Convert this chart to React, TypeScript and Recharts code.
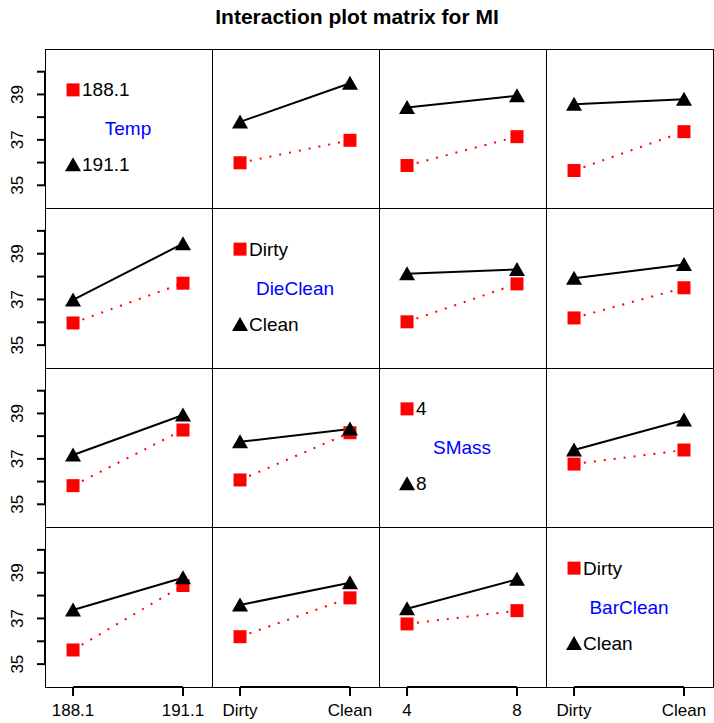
import React from 'react';
import { ComposedChart, Line, XAxis, YAxis, ReferenceDot, ReferenceLine } from 'recharts';

const factorNames = ['Temp', 'DieClean', 'SMass', 'BarClean'];
const factorLevels = [
  ['188.1', '191.1'],
  ['Dirty', 'Clean'],
  ['4', '8'],
  ['Dirty', 'Clean'],
];

// mean MI, row = trace factor, col = x factor, [x level 1, x level 2]
// red = first level of the trace factor, black = second level
const redMeans: (number[] | null)[][] = [
  [null, [35.99, 36.98], [35.87, 37.14], [35.65, 37.36]],
  [[35.97, 37.71], null, [36.02, 37.68], [36.19, 37.51]],
  [[35.82, 38.27], [36.07, 38.15], null, [36.77, 37.39]],
  [[35.62, 38.44], [36.2, 37.9], [36.76, 37.34], null],
];
const blackMeans: (number[] | null)[][] = [
  [null, [37.79, 39.49], [38.42, 38.94], [38.57, 38.79]],
  [[36.98, 39.44], null, [38.12, 38.31], [37.93, 38.53]],
  [[37.17, 38.93], [37.75, 38.31], null, [37.39, 38.71]],
  [[37.37, 38.78], [37.59, 38.56], [37.42, 38.71], null],
];

const yTicks = [35, 36, 37, 38, 39, 40];
const yLabels = [35, 37, 39];
const legendY = [39.2, 35.9];
const nameY = 37.5;

const FONT = '"Liberation Sans", Arial, sans-serif';
const colX = [45, 212, 379, 546, 713];
const rowY = [49, 208, 368, 527, 687];
const xDomain = [-0.255, 1.264];
const yDomain = [34, 41];

const Square = (p: any) => (
  <rect key={`s${p.index}`} x={p.cx - 6.5} y={p.cy - 6.5} width={13} height={13} fill="#ff0000" />
);
const Triangle = (p: any) => (
  <polygon
    key={`t${p.index}`}
    points={`${p.cx},${p.cy - 7.5} ${p.cx - 8},${p.cy + 6.5} ${p.cx + 8},${p.cy + 6.5}`}
    fill="#000"
  />
);
const LegendDot = (p: any) => {
  const d = p.payload;
  return (
    <g key={`l${p.index}`}>
      {d.kind === 'sq' ? <Square cx={p.cx} cy={p.cy} /> : <Triangle cx={p.cx} cy={p.cy} />}
      <text x={p.cx + 9} y={p.cy} dominantBaseline="central" fontSize={19} fontFamily={FONT} fill="#000">
        {d.text}
      </text>
    </g>
  );
};

function Panel({ row, col }: { row: number; col: number }) {
  const diag = row === col;
  const left = col === 0;
  const bottom = row === 3;
  const w = colX[col + 1] - colX[col] + (left ? 45 : 0);
  const h = rowY[row + 1] - rowY[row] + (bottom ? 37 : 0);
  const data = diag
    ? [
        { x: 0, leg: legendY[0], kind: 'sq', text: factorLevels[row][0] },
        { x: 0, leg: legendY[1], kind: 'tri', text: factorLevels[row][1] },
      ]
    : [0, 1].map((i) => ({ x: i, red: redMeans[row][col]![i], black: blackMeans[row][col]![i] }));

  return (
    <div style={{ position: 'absolute', left: left ? 0 : colX[col], top: rowY[row] }}>
      <ComposedChart width={w} height={h} data={data} margin={{ top: 0, right: 0, bottom: 0, left: 0 }}>
        <XAxis
          type="number"
          dataKey="x"
          domain={xDomain}
          allowDataOverflow
          ticks={[0, 1]}
          interval={0}
          hide={!bottom}
          height={37}
          axisLine={false}
          tickSize={9}
          tickLine={{ stroke: '#000', strokeWidth: 2 }}
          tick={(p: any) => (
            <text
              x={p.x}
              y={p.y + 12}
              textAnchor="middle"
              dominantBaseline="central"
              fontSize={17}
              fontFamily={FONT}
              fill="#000"
            >
              {factorLevels[col][p.payload.value]}
            </text>
          )}
        />
        <YAxis
          type="number"
          domain={yDomain}
          allowDataOverflow
          ticks={yTicks}
          interval={0}
          hide={!left}
          width={45}
          axisLine={false}
          tickSize={8}
          tickLine={{ stroke: '#000', strokeWidth: 2 }}
          tick={(p: any) =>
            yLabels.includes(p.payload.value) ? (
              <text
                x={18}
                y={p.y}
                transform={`rotate(-90, 18, ${p.y})`}
                textAnchor="middle"
                dominantBaseline="central"
                fontSize={17}
                fontFamily={FONT}
                fill="#000"
              >
                {p.payload.value}
              </text>
            ) : (
              <g />
            )
          }
        />
        {left && (
          <ReferenceLine
            segment={[
              { x: xDomain[0], y: 35 },
              { x: xDomain[0], y: 40 },
            ]}
            stroke="#000"
            strokeWidth={2}
            ifOverflow="visible"
          />
        )}
        {bottom && (
          <ReferenceLine
            segment={[
              { x: 0, y: yDomain[0] },
              { x: 1, y: yDomain[0] },
            ]}
            stroke="#000"
            strokeWidth={2}
            ifOverflow="visible"
          />
        )}
        {diag ? (
          <Line dataKey="leg" stroke="none" dot={LegendDot} isAnimationActive={false} />
        ) : (
          <Line
            dataKey="red"
            stroke="#ff0000"
            strokeWidth={2}
            strokeDasharray="2 8"
            dot={Square}
            isAnimationActive={false}
          />
        )}
        {!diag && (
          <Line dataKey="black" stroke="#000" strokeWidth={2} dot={Triangle} isAnimationActive={false} />
        )}
        {diag && (
          <ReferenceDot
            x={0.5}
            y={nameY}
            r={0}
            ifOverflow="visible"
            shape={(p: any) => (
              <text
                x={p.cx}
                y={p.cy}
                textAnchor="middle"
                dominantBaseline="central"
                fontSize={19}
                fontFamily={FONT}
                fill="#0000ff"
              >
                {factorNames[row]}
              </text>
            )}
          />
        )}
      </ComposedChart>
    </div>
  );
}

export default function App() {
  const cells: { row: number; col: number }[] = [];
  for (let r = 0; r < 4; r++) for (let c = 0; c < 4; c++) cells.push({ row: r, col: c });
  return (
    <div style={{ position: 'absolute', left: 0, top: 0, width: 714, height: 723, background: '#fff', fontFamily: FONT }}>
      <div
        style={{
          position: 'absolute',
          top: 5,
          left: 0,
          width: 714,
          textAlign: 'center',
          fontSize: 21,
          fontWeight: 'bold',
          lineHeight: '24px',
        }}
      >
        Interaction plot matrix for MI
      </div>
      {cells.map((c) => (
        <Panel key={`${c.row}-${c.col}`} row={c.row} col={c.col} />
      ))}
      {cells.map((c) => (
        <div
          key={`f${c.row}-${c.col}`}
          style={{
            position: 'absolute',
            left: colX[c.col],
            top: rowY[c.row],
            width: colX[c.col + 1] - colX[c.col] + 1,
            height: rowY[c.row + 1] - rowY[c.row] + 1,
            border: '1px solid #000',
            boxSizing: 'border-box',
            pointerEvents: 'none',
          }}
        />
      ))}
    </div>
  );
}
